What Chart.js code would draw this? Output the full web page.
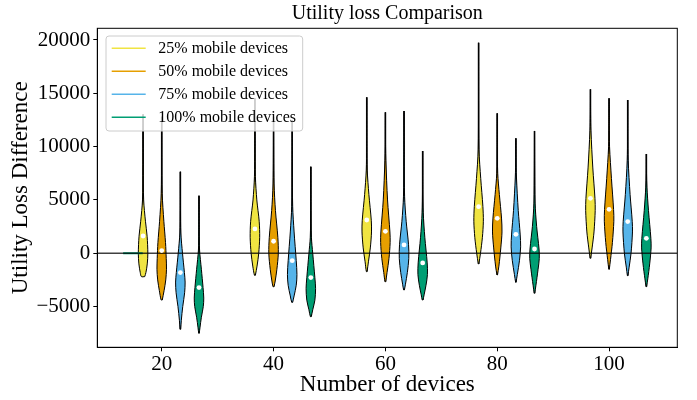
<!DOCTYPE html>
<html><head><meta charset="utf-8">
<script src="https://cdn.jsdelivr.net/npm/chart.js@4.4.1/dist/chart.umd.min.js"></script>
<style>html,body{margin:0;padding:0;background:#fff;}#wrap{width:697px;height:400px;}</style>
</head><body><div id="wrap"><canvas id="c" width="697" height="400"></canvas></div>
<script>
// ---------- data ----------
const groups = [20, 40, 60, 80, 100];
const xTickLabels = ['20', '40', '60', '80', '100'];
const yTicks = [-5000, 0, 5000, 10000, 15000, 20000];
const yTickLabels = ['\u22125000', '0', '5000', '10000', '15000', '20000'];
const seriesLabels = ['25% mobile devices', '50% mobile devices', '75% mobile devices', '100% mobile devices'];

// medians (white dots), one per group
const median25 = [1620, 2280, 3120, 4370, 5150];
const median50 = [250, 1125, 2060, 3280, 4120];
const median75 = [-1815, -690, 780, 1780, 2970];
const median100 = [-3220, -2280, -910, 400, 1400];

// violin outlines per group: [value, relative half-width], from max down to min
const violin25 = [
  [[13030,0],[8000,0.04],[5000,0.12],[3000,0.5],[1600,0.85],[0,1.0],[-1000,0.88],[-1800,0.6],[-2190,0.35]],
  [[14530,0],[10000,0.03],[7200,0.1],[5000,0.4],[3000,0.9],[1500,1.0],[0,0.8],[-1200,0.45],[-2060,0.1]],
  [[14620,0],[10000,0.03],[7800,0.1],[5500,0.45],[3100,0.95],[2000,1.0],[500,0.75],[-800,0.35],[-1720,0.08]],
  [[19740,0],[14000,0.02],[9700,0.08],[7000,0.45],[4400,0.9],[3000,1.0],[1500,0.8],[0,0.4],[-1000,0.05]],
  [[15370,0],[13000,0.03],[11500,0.1],[8000,0.5],[5150,0.95],[4000,1.0],[2000,0.75],[500,0.35],[-470,0.05]]
];
const violin50 = [
  [[12800,0],[9000,0.03],[5600,0.1],[3000,0.45],[1000,0.8],[-500,0.95],[-1500,1.0],[-2500,0.85],[-3500,0.5],[-4380,0.12]],
  [[12800,0],[9000,0.03],[6500,0.1],[4000,0.4],[1500,0.9],[0,1.0],[-1500,0.7],[-2600,0.35],[-3130,0.1]],
  [[13220,0],[10000,0.03],[8700,0.1],[5000,0.45],[2000,0.95],[1000,1.0],[-500,0.75],[-1800,0.35],[-2660,0.08]],
  [[13120,0],[10000,0.03],[7500,0.1],[5500,0.45],[3300,0.9],[2000,1.0],[500,0.75],[-1200,0.35],[-2030,0.05]],
  [[14530,0],[12000,0.03],[10000,0.1],[7000,0.5],[4100,0.95],[3000,1.0],[1000,0.7],[-600,0.3],[-1500,0.05]]
];
const violin75 = [
  [[7650,0],[4000,0.03],[1900,0.1],[0,0.45],[-1800,0.85],[-2700,1.0],[-3700,0.9],[-5000,0.5],[-6300,0.2],[-7130,0.05]],
  [[12500,0],[8000,0.03],[4400,0.1],[2000,0.4],[-700,0.85],[-2000,1.0],[-3000,0.85],[-4000,0.4],[-4600,0.1]],
  [[13340,0],[9000,0.03],[5300,0.12],[3000,0.45],[800,0.95],[-500,1.0],[-1800,0.7],[-2900,0.3],[-3440,0.08]],
  [[10780,0],[9000,0.03],[7150,0.12],[4000,0.5],[1800,0.9],[600,1.0],[-700,0.75],[-2000,0.3],[-2720,0.05]],
  [[14370,0],[11000,0.03],[8700,0.1],[5500,0.5],[3000,0.95],[2000,1.0],[0,0.7],[-1300,0.3],[-2100,0.05]]
];
const violin100 = [
  [[5400,0],[2000,0.04],[300,0.12],[-1500,0.5],[-3200,0.85],[-4200,1.0],[-5000,0.9],[-6000,0.5],[-7000,0.2],[-7500,0.05]],
  [[8120,0],[4000,0.03],[1500,0.12],[0,0.4],[-2300,0.85],[-3300,1.0],[-4400,0.85],[-5300,0.4],[-5940,0.1]],
  [[9590,0],[6000,0.03],[3800,0.12],[1500,0.45],[-900,0.95],[-2000,1.0],[-3000,0.7],[-3900,0.3],[-4380,0.08]],
  [[11470,0],[8000,0.03],[4700,0.12],[2500,0.45],[400,0.95],[-500,1.0],[-1500,0.75],[-3000,0.3],[-3750,0.05]],
  [[9310,0],[7500,0.03],[6200,0.12],[4000,0.45],[1400,0.95],[500,1.0],[-1000,0.7],[-2400,0.3],[-3130,0.05]]
];
// short dark-green segment lying on the zero line left of the first group
const zeroSegmentX = [13.1, 16.6];

// ---------- styling / layout ----------
const colors = ['#F0E442', '#E69F00', '#56B4E9', '#009E73'];
const offsets = [-10/3, 0, 10/3, 20/3];
const HALF_W = 0.85;
const X_MIN = 8.48, X_MAX = 112.2, Y_MIN = -8818, Y_MAX = 21097;
const FONT = "'Liberation Serif', 'Times New Roman', serif";

const violinSets = [violin25, violin50, violin75, violin100];
const medianSets = [median25, median50, median75, median100];

const datasets = [];
violinSets.forEach((set, si) => {
  set.forEach((prof, gi) => {
    const cx = groups[gi] + offsets[si];
    const vmax = prof[0][0], vmin = prof[prof.length - 1][0];
    datasets.push({
      type: 'scatter', showLine: true, data: [{x: cx, y: vmin}, {x: cx, y: vmax}],
      borderColor: '#000', borderWidth: 1.6, pointRadius: 0, order: 30
    });
    const pts = [];
    for (let k = prof.length - 1; k >= 0; k--) pts.push({x: cx + prof[k][1] * HALF_W, y: prof[k][0]});
    for (let k = 1; k < prof.length; k++) pts.push({x: cx - prof[k][1] * HALF_W, y: prof[k][0]});
    pts.push({x: pts[0].x, y: pts[0].y});
    datasets.push({
      type: 'scatter', showLine: true, data: pts, fill: 'shape',
      backgroundColor: colors[si], borderColor: '#000', borderWidth: 1,
      pointRadius: 0, tension: 0.3, order: 20
    });
  });
});
datasets.push({
  type: 'scatter', showLine: true,
  data: [{x: zeroSegmentX[0], y: 0}, {x: zeroSegmentX[1], y: 0}],
  borderColor: colors[3], borderWidth: 2.2, pointRadius: 0, order: 11
});
datasets.push({
  type: 'scatter', showLine: true,
  data: [{x: X_MIN, y: 0}, {x: X_MAX, y: 0}],
  borderColor: 'rgba(0,0,0,0.75)', borderWidth: 1.4, pointRadius: 0, order: 10
});
medianSets.forEach((arr, si) => {
  datasets.push({
    type: 'scatter', data: arr.map((v, gi) => ({x: groups[gi] + offsets[si], y: v})),
    backgroundColor: '#fff', borderColor: '#fff', borderWidth: 0, pointRadius: 2.4, order: 1
  });
});

const framePlugin = {
  id: 'frame',
  afterDraw(chart) {
    const {ctx, chartArea: a} = chart;
    ctx.save();
    ctx.strokeStyle = '#000'; ctx.lineWidth = 1;
    ctx.strokeRect(a.left, a.top, a.right - a.left, a.bottom - a.top);
    const lx = 106, ly = 36, lw = 196.7, lh = 95, r = 3;
    ctx.beginPath();
    ctx.moveTo(lx + r, ly); ctx.lineTo(lx + lw - r, ly); ctx.quadraticCurveTo(lx + lw, ly, lx + lw, ly + r);
    ctx.lineTo(lx + lw, ly + lh - r); ctx.quadraticCurveTo(lx + lw, ly + lh, lx + lw - r, ly + lh);
    ctx.lineTo(lx + r, ly + lh); ctx.quadraticCurveTo(lx, ly + lh, lx, ly + lh - r);
    ctx.lineTo(lx, ly + r); ctx.quadraticCurveTo(lx, ly, lx + r, ly); ctx.closePath();
    ctx.fillStyle = 'rgba(255,255,255,0.8)'; ctx.fill();
    ctx.strokeStyle = '#cccccc'; ctx.lineWidth = 1; ctx.stroke();
    ctx.font = '16px ' + FONT; ctx.textBaseline = 'middle'; ctx.textAlign = 'left';
    seriesLabels.forEach((lab, i) => {
      const y = 48.3 + i * 23;
      ctx.strokeStyle = colors[i]; ctx.lineWidth = 1.5;
      ctx.beginPath(); ctx.moveTo(111.7, y); ctx.lineTo(145.7, y); ctx.stroke();
      ctx.fillStyle = '#000'; ctx.fillText(lab, 158.3, y + 0.5);
    });
    ctx.restore();
  }
};

new Chart(document.getElementById('c'), {
  type: 'scatter',
  data: {datasets},
  plugins: [framePlugin],
  options: {
    responsive: false, animation: false, devicePixelRatio: 1,
    layout: {padding: {left: 0, right: 19.7, top: 0, bottom: 0}},
    plugins: {
      legend: {display: false}, tooltip: {enabled: false},
      title: {display: true, fullSize: false, text: 'Utility loss Comparison', color: '#000',
        font: {family: FONT, size: 20, weight: 'normal'}, padding: {top: 2, bottom: 2.3}}
    },
    scales: {
      x: {
        type: 'linear', min: X_MIN, max: X_MAX,
        afterBuildTicks: s => { s.ticks = groups.map(v => ({value: v})); },
        afterFit: s => { s.height = 52.7; },
        ticks: {color: '#000', font: {family: FONT, size: 21}, padding: 1,
          callback: v => xTickLabels[groups.indexOf(v)]},
        grid: {drawOnChartArea: false, drawTicks: true, tickLength: 4, color: '#000'},
        border: {color: '#000', width: 1},
        title: {display: true, text: 'Number of devices', color: '#000',
          font: {family: FONT, size: 23}, padding: {top: 0, bottom: 1.5}}
      },
      y: {
        type: 'linear', min: Y_MIN, max: Y_MAX,
        afterBuildTicks: s => { s.ticks = yTicks.map(v => ({value: v})); },
        afterFit: s => { s.width = 97.3; },
        ticks: {color: '#000', font: {family: FONT, size: 21}, padding: 3,
          callback: v => yTickLabels[yTicks.indexOf(v)]},
        grid: {drawOnChartArea: false, drawTicks: true, tickLength: 4, color: '#000'},
        border: {color: '#000', width: 1},
        title: {display: true, text: 'Utility Loss Difference', color: '#000',
          font: {family: FONT, size: 23}, padding: {top: 7.5, bottom: 0}}
      }
    }
  }
});
</script></body></html>
